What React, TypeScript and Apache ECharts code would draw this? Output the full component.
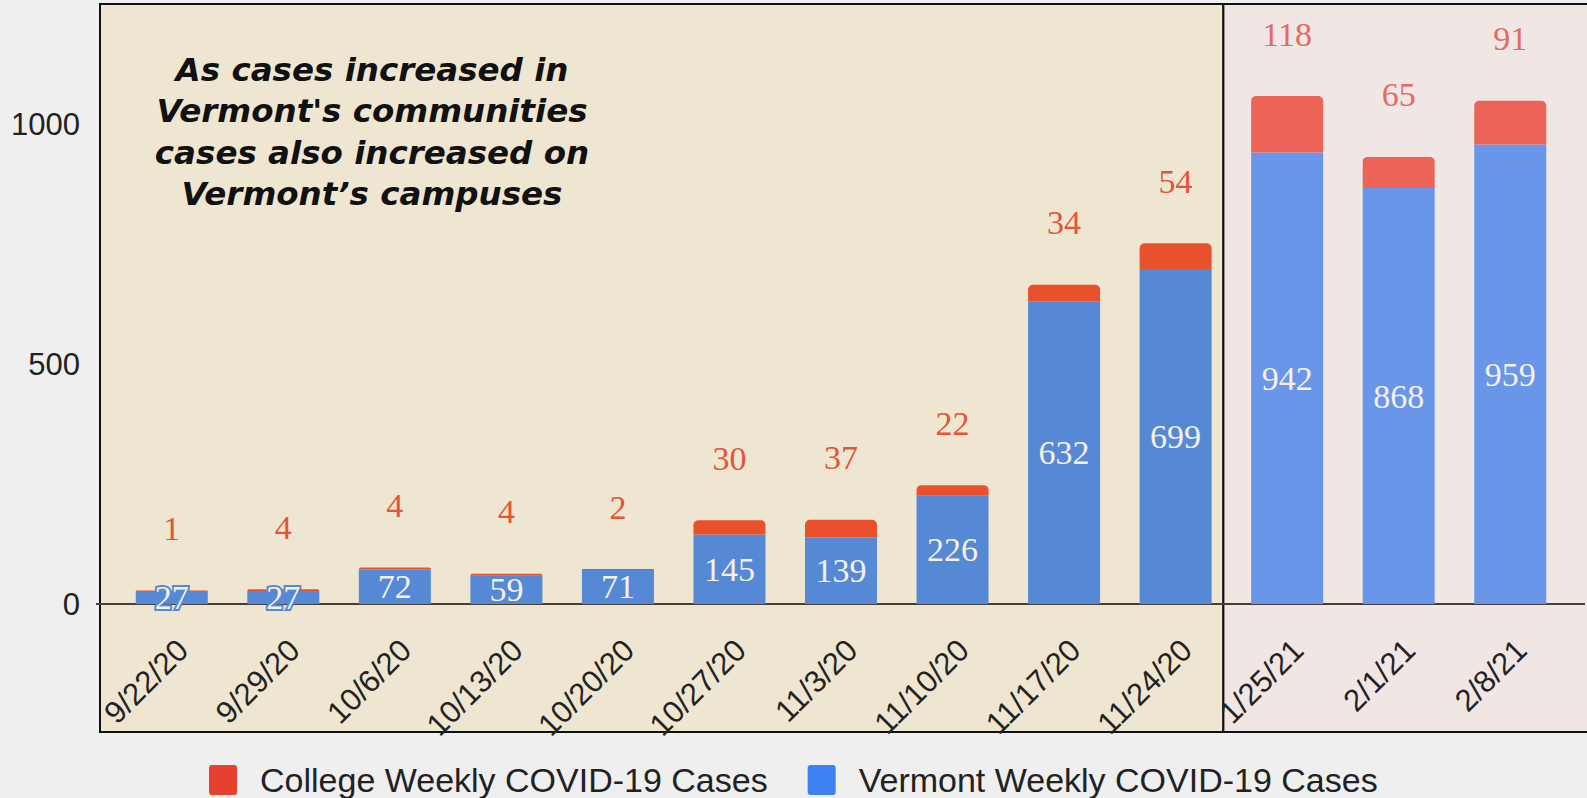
import React, { useEffect, useRef } from "react";
import * as echarts from "echarts";

const categories = [
  "9/22/20", "9/29/20", "10/6/20", "10/13/20", "10/20/20", "10/27/20", "11/3/20",
  "11/10/20", "11/17/20", "11/24/20", "1/25/21", "2/1/21", "2/8/21",
];
const vermontCases = [27, 27, 72, 59, 71, 145, 139, 226, 632, 699, 942, 868, 959];
const collegeCases = [1, 4, 4, 4, 2, 30, 37, 22, 34, 54, 118, 65, 91];
const yTickLabels = [0, 500, 1000];
const fallCount = 10; // first ten weeks are fall 2020, the rest spring 2021
const annotation = [
  "As cases increased in",
  "Vermont's communities",
  "cases also increased on",
  "Vermont\u2019s campuses",
];

const FALL = { blue: "#5589d6", red: "#e9502c", label: "#e2553a" };
const SPRING = { blue: "#6a96e9", red: "#ec6357", label: "#e26b64" };
const legendIcon =
  "path://M3,0 H25 Q28,0 28,3 V27 Q28,30 25,30 H3 Q0,30 0,27 V3 Q0,0 3,0 Z";

export default function App() {
  const ref = useRef<HTMLDivElement>(null);
  useEffect(() => {
    if (!ref.current) return;
    const chart = echarts.init(ref.current, undefined, { renderer: "svg" });
    const pal = (i: number) => (i < fallCount ? FALL : SPRING);
    const option: any = {
      animation: false,
      backgroundColor: "#efefef",
      grid: { left: 116, right: 21, top: 5, bottom: 194 },
      legend: {
        left: 209,
        top: 763,
        padding: 0,
        itemWidth: 28,
        itemHeight: 30,
        itemGap: 40,
        icon: legendIcon,
        data: ["College Weekly COVID-19 Cases", "Vermont Weekly COVID-19 Cases"],
        textStyle: {
          fontFamily: "Liberation Sans",
          fontSize: 34,
          color: "#222",
          padding: [0, 0, 0, 18],
        },
      },
      xAxis: {
        type: "category",
        data: categories,
        z: 5,
        axisLine: { show: false },
        axisTick: { show: false },
        axisLabel: {
          interval: 0,
          rotate: 45,
          margin: 30,
          verticalAlign: "top",
          fontFamily: "Liberation Sans",
          fontSize: 31,
          color: "#222",
        },
      },
      yAxis: {
        type: "value",
        min: 0,
        max: 1250,
        interval: 250,
        splitLine: { show: false },
        axisLine: { show: false },
        axisTick: { show: false },
        axisLabel: {
          margin: 36,
          fontFamily: "Liberation Sans",
          fontSize: 31,
          color: "#222",
          formatter: (v: number) => (yTickLabels.includes(v) ? String(v) : ""),
        },
      },
      series: [
        {
          name: "Vermont Weekly COVID-19 Cases",
          type: "bar",
          stack: "total",
          barWidth: 72,
          z: 3,
          itemStyle: { color: "#3d82f0" },
          data: vermontCases.map((v, i) => ({
            value: v,
            itemStyle: { color: pal(i).blue },
            label: { textBorderColor: pal(i).blue },
          })),
          label: {
            show: true,
            position: "inside",
            fontFamily: "Liberation Serif",
            fontSize: 34,
            color: "#f5f0e4",
            textBorderWidth: 4,
          },
        },
        {
          name: "College Weekly COVID-19 Cases",
          type: "bar",
          stack: "total",
          barWidth: 72,
          z: 3,
          itemStyle: { color: "#e8402f", borderRadius: [5, 5, 0, 0] },
          data: collegeCases.map((v, i) => ({
            value: v,
            itemStyle: { color: pal(i).red, borderRadius: [5, 5, 0, 0] },
            label: { color: pal(i).label },
          })),
          label: {
            show: true,
            position: "top",
            distance: 45,
            fontFamily: "Liberation Serif",
            fontSize: 34,
          },
        },
      ],
    };
    chart.setOption(option);

    const y0 = chart.convertToPixel({ yAxisIndex: 0 }, 0) as number;
    const xDiv =
      ((chart.convertToPixel({ xAxisIndex: 0 }, categories[fallCount - 1]) as number) +
        (chart.convertToPixel({ xAxisIndex: 0 }, categories[fallCount]) as number)) /
        2 -
      8;
    chart.setOption({
      graphic: [
        {
          type: "rect",
          z: -1,
          shape: { x: 100, y: 4, width: xDiv - 100, height: 728 },
          style: { fill: "#efe6d1", stroke: "#111", lineWidth: 2 },
        },
        {
          type: "rect",
          z: -1,
          shape: { x: xDiv, y: 4, width: 1600 - xDiv, height: 728 },
          style: { fill: "#f0e6e4", stroke: "#111", lineWidth: 2 },
        },
        {
          type: "line",
          z: 1,
          shape: { x1: 96, y1: y0, x2: 1585, y2: y0 },
          style: { stroke: "#4a3e30", lineWidth: 2 },
        },
        {
          type: "text",
          z: 6,
          x: 372,
          y: 49,
          style: {
            text: annotation.join("\n"),
            fontFamily: "DejaVu Sans",
            fontWeight: "bold",
            fontStyle: "italic",
            fontSize: 32.5,
            lineHeight: 41.5,
            fill: "#111",
            align: "center",
            verticalAlign: "top",
          },
        },
      ],
    });
    return () => chart.dispose();
  }, []);
  return (
    <div
      ref={ref}
      style={{ position: "fixed", left: 0, top: 0, width: 1587, height: 798 }}
    />
  );
}
